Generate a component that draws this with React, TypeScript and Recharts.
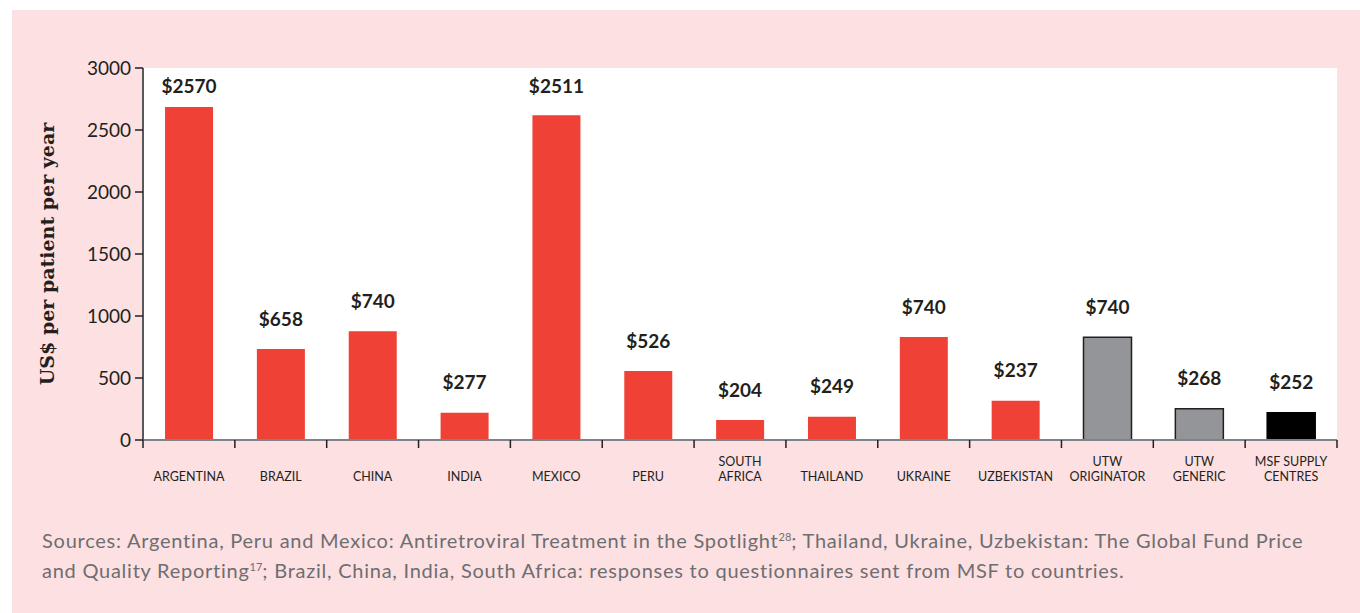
import React from 'react'
import { BarChart, Bar, XAxis, YAxis, CartesianGrid, LabelList, Cell } from 'recharts'

const categories = [
  'ARGENTINA',
  'BRAZIL',
  'CHINA',
  'INDIA',
  'MEXICO',
  'PERU',
  'SOUTH\nAFRICA',
  'THAILAND',
  'UKRAINE',
  'UZBEKISTAN',
  'UTW\nORIGINATOR',
  'UTW\nGENERIC',
  'MSF SUPPLY\nCENTRES',
]
const barValues = [2686, 733, 878, 220, 2619, 556, 161, 188, 830, 317, 828, 252, 220]
const priceLabels = ['$2570', '$658', '$740', '$277', '$2511', '$526', '$204', '$249', '$740', '$237', '$740', '$268', '$252']
const groups = ['country', 'country', 'country', 'country', 'country', 'country', 'country', 'country', 'country', 'country', 'utw', 'utw', 'msf']
const yTicks = [0, 500, 1000, 1500, 2000, 2500, 3000]

const fills: Record<string, string> = { country: '#ef4136', utw: '#939598', msf: '#000000' }
const strokes: Record<string, string> = { country: 'none', utw: '#231f20', msf: '#000000' }

const PLOT_LEFT = 143
const PLOT_RIGHT = 1337
const BAND = (PLOT_RIGHT - PLOT_LEFT) / categories.length

const data = categories.map((name, i) => ({
  name,
  value: barValues[i],
  label: priceLabels[i],
  group: groups[i],
}))

function CategoryTick(props: any) {
  const { x, y, payload, index } = props
  const lines = String(payload.value).split('\n')
  const left = x - BAND / 2
  return (
    <g>
      <line x1={left} y1={y} x2={left} y2={y + 8} stroke="#231f20" strokeWidth={1.5} />
      {index === categories.length - 1 && (
        <line x1={x + BAND / 2} y1={y} x2={x + BAND / 2} y2={y + 8} stroke="#231f20" strokeWidth={1.5} />
      )}
      <text textAnchor="middle" fontFamily="Lato" fontSize={12.5} fill="#231f20">
        {lines.map((l, i) => (
          <tspan key={i} x={x} y={y + 41 - (lines.length - 1 - i) * 15}>
            {l}
          </tspan>
        ))}
      </text>
    </g>
  )
}

function PriceLabel(props: any) {
  const { x, y, width, value } = props
  // keep the tallest labels inside the plot
  const ly = Math.max(y - 31, 85)
  return (
    <text
      x={x + width / 2}
      y={ly}
      textAnchor="middle"
      dominantBaseline="central"
      fontFamily="Lato"
      fontWeight="bold"
      fontSize={19}
      fill="#231f20"
    >
      {value}
    </text>
  )
}

const supStyle: React.CSSProperties = {
  fontSize: 11,
  position: 'relative',
  top: -7,
  letterSpacing: 0,
  lineHeight: 0,
}

export default function App() {
  return (
    <div style={{ position: 'absolute', left: 0, top: 0, width: 1360, height: 613 }}>
      <div
        style={{ position: 'absolute', left: 12, top: 10, width: 1348, height: 603, background: '#fde0e1' }}
      />
      <div style={{ position: 'absolute', left: 0, top: 0 }}>
        <BarChart
          width={1360}
          height={500}
          data={data}
          margin={{ top: 68, right: 1360 - PLOT_RIGHT, left: 0, bottom: 0 }}
          barCategoryGap="24%"
        >
          <CartesianGrid horizontal={false} vertical={false} fill="#ffffff" />
          <XAxis
            dataKey="name"
            height={60}
            tickLine={false}
            tickSize={0}
            tickMargin={0}
            axisLine={{ stroke: '#808285', strokeWidth: 2 }}
            tick={<CategoryTick />}
            interval={0}
          />
          <YAxis
            width={PLOT_LEFT}
            domain={[0, 3000]}
            ticks={yTicks}
            interval={0}
            tickSize={8}
            tickMargin={4}
            axisLine={{ stroke: '#58595b', strokeWidth: 2 }}
            tickLine={{ stroke: '#231f20', strokeWidth: 1.5 }}
            tick={{ fontFamily: 'Lato', fontSize: 19, fill: '#231f20' }}
            label={{
              value: 'US$ per patient per year',
              angle: -90,
              position: 'insideLeft',
              offset: 47,
              style: {
                fontFamily: 'DejaVu Serif',
                fontWeight: 'bold',
                fontSize: 19,
                fill: '#231f20',
                textAnchor: 'middle',
              },
            }}
          />
          <Bar dataKey="value" isAnimationActive={false}>
            {data.map((d, i) => (
              <Cell key={i} fill={fills[d.group]} stroke={strokes[d.group]} strokeWidth={1.5} />
            ))}
            <LabelList dataKey="label" content={<PriceLabel />} />
          </Bar>
        </BarChart>
      </div>
      <div
        style={{
          position: 'absolute',
          left: 42,
          top: 525,
          width: 1310,
          fontFamily: 'Lato',
          fontSize: 20,
          letterSpacing: 0.75,
          lineHeight: '30px',
          color: '#6d6e71',
          whiteSpace: 'nowrap',
        }}
      >
        Sources: Argentina, Peru and Mexico: Antiretroviral Treatment in the Spotlight
        <span style={supStyle}>28</span>; Thailand, Ukraine, Uzbekistan: The Global Fund Price
        <br />
        and Quality Reporting<span style={supStyle}>17</span>; Brazil, China, India, South Africa:
        responses to questionnaires sent from MSF to countries.
      </div>
    </div>
  )
}
